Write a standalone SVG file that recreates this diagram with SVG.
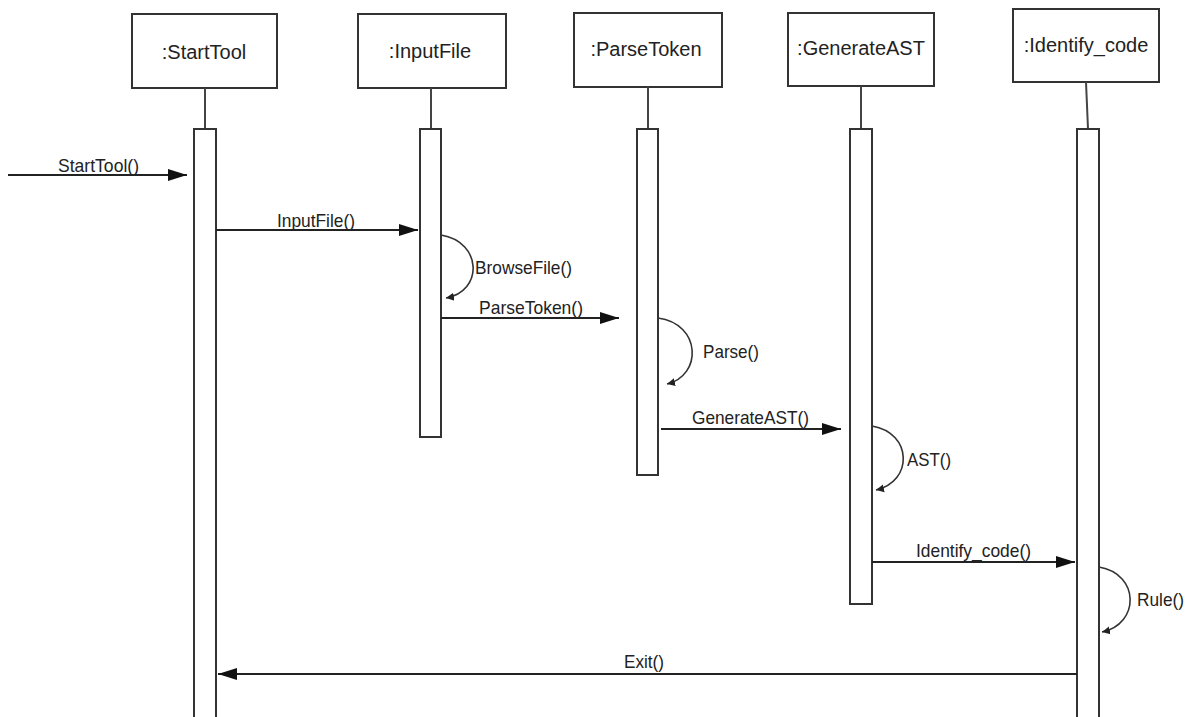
<svg xmlns="http://www.w3.org/2000/svg" width="1188" height="717" viewBox="0 0 1188 717">
<style>
.box{fill:#fff;stroke:#333;stroke-width:2}
.act{fill:#fff;stroke:#333;stroke-width:2}
.life{stroke:#444;stroke-width:2;fill:none}
.msg{stroke:#222;stroke-width:2;fill:none}
.self{stroke:#333;stroke-width:1.6;fill:none}
text{font-family:"Liberation Sans",Arial,sans-serif;fill:#222}
.h{font-size:20px;text-anchor:middle}
.l{font-size:19px}
</style>
<defs>
<marker id="arr" markerUnits="userSpaceOnUse" markerWidth="20" markerHeight="14" refX="19" refY="7" orient="auto">
<path d="M0,1 L19,7 L0,13 Z" fill="#111"/>
</marker>
<marker id="sarr" markerUnits="userSpaceOnUse" markerWidth="10" markerHeight="10" refX="8" refY="5" orient="auto">
<path d="M0,1 L8,5 L0,9 Z" fill="#222"/>
</marker>
</defs>
<rect width="1188" height="717" fill="#fff"/>
<g id="StartTool">
<rect class="box" x="132" y="14" width="145" height="74"/>
<text class="h" x="204" y="59">:StartTool</text>
<line class="life" x1="205" y1="88" x2="205" y2="129"/>
<rect class="act" x="194" y="129" width="22" height="600"/>
</g>
<g id="InputFile">
<rect class="box" x="358" y="14" width="148" height="74"/>
<text class="h" x="430" y="58">:InputFile</text>
<line class="life" x1="431" y1="88" x2="431" y2="129"/>
<rect class="act" x="420" y="129" width="21" height="308"/>
</g>
<g id="ParseToken">
<rect class="box" x="574" y="13" width="148" height="74"/>
<text class="h" x="646" y="56">:ParseToken</text>
<line class="life" x1="648" y1="87" x2="648" y2="129"/>
<rect class="act" x="637" y="129" width="21" height="346"/>
</g>
<g id="GenerateAST">
<rect class="box" x="788" y="13" width="146" height="73"/>
<text class="h" x="861" y="55">:GenerateAST</text>
<line class="life" x1="861" y1="86" x2="861" y2="129"/>
<rect class="act" x="850" y="129" width="22" height="475"/>
</g>
<g id="Identify_code">
<rect class="box" x="1013" y="9" width="146" height="73"/>
<text class="h" x="1086" y="52">:Identify_code</text>
<line class="life" x1="1086" y1="82" x2="1088" y2="129"/>
<rect class="act" x="1077" y="129" width="22" height="600"/>
</g>
<g id="connectors">
<line class="msg" x1="8" y1="175" x2="187" y2="175" marker-end="url(#arr)"/>
<text class="l" x="58" y="172" textLength="81" lengthAdjust="spacingAndGlyphs">StartTool()</text>
<line class="msg" x1="216" y1="230" x2="418" y2="230" marker-end="url(#arr)"/>
<text class="l" x="277" y="227" textLength="78" lengthAdjust="spacingAndGlyphs">InputFile()</text>
<path class="self" d="M441,235 C483,242 483,292 446,298" marker-end="url(#sarr)"/>
<text class="l" x="475" y="274" textLength="97" lengthAdjust="spacingAndGlyphs">BrowseFile()</text>
<line class="msg" x1="441" y1="318" x2="619" y2="318" marker-end="url(#arr)"/>
<text class="l" x="479" y="314" textLength="104" lengthAdjust="spacingAndGlyphs">ParseToken()</text>
<path class="self" d="M658,318 C702,324 702,376 667,384" marker-end="url(#sarr)"/>
<text class="l" x="703" y="358" textLength="56" lengthAdjust="spacingAndGlyphs">Parse()</text>
<line class="msg" x1="661" y1="429" x2="841" y2="429" marker-end="url(#arr)"/>
<text class="l" x="692" y="424" textLength="117" lengthAdjust="spacingAndGlyphs">GenerateAST()</text>
<path class="self" d="M872,426 C913,433 913,482 876,490" marker-end="url(#sarr)"/>
<text class="l" x="907" y="466" textLength="44" lengthAdjust="spacingAndGlyphs">AST()</text>
<line class="msg" x1="872" y1="562" x2="1075" y2="562" marker-end="url(#arr)"/>
<text class="l" x="916" y="557" textLength="115" lengthAdjust="spacingAndGlyphs">Identify_code()</text>
<path class="self" d="M1099,567 C1140,574 1140,624 1102,632" marker-end="url(#sarr)"/>
<text class="l" x="1137" y="606" textLength="47" lengthAdjust="spacingAndGlyphs">Rule()</text>
<line class="msg" x1="1077" y1="674" x2="218" y2="674" marker-end="url(#arr)"/>
<text class="l" x="624" y="668" textLength="40" lengthAdjust="spacingAndGlyphs">Exit()</text>
</g>
</svg>
